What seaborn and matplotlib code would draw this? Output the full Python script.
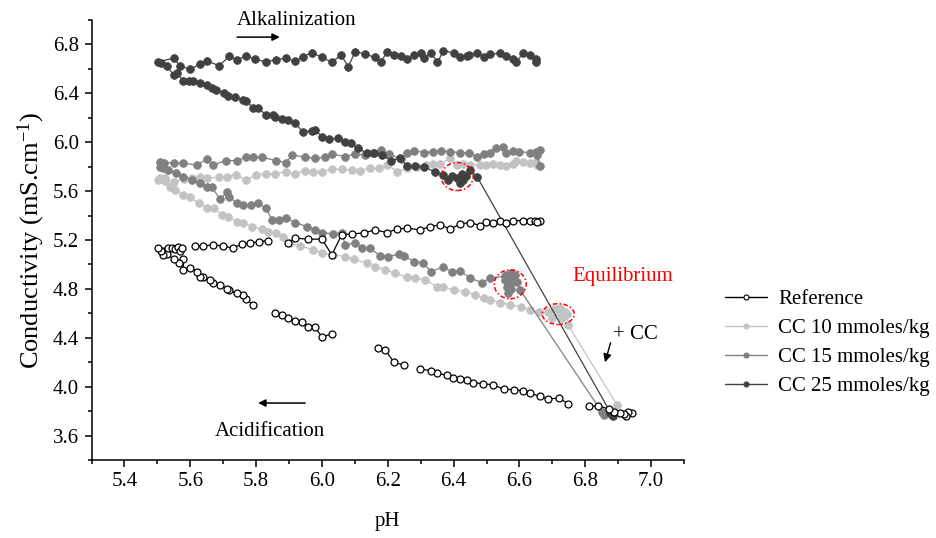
import numpy as np
import pandas as pd
import matplotlib
matplotlib.use("Agg")
import matplotlib.pyplot as plt
import seaborn as sns
from matplotlib.lines import Line2D
from matplotlib.patches import Ellipse
from matplotlib.ticker import MultipleLocator

# ---------------- data ----------------
series_labels = ["Reference", "CC 10 mmoles/kg", "CC 15 mmoles/kg", "CC 25 mmoles/kg"]
series_colors = ["#000000", "#c3c3c3", "#808080", "#414141"]

nan = np.nan
ref_ph = [6.943, 6.931, 6.925, 6.918, 6.906, 6.888, 6.871, 6.840, 6.810, nan,
          6.749, 6.719, 6.688, 6.661, 6.633, 6.611, 6.582, 6.552, 6.519, 6.489, 6.459, 6.440, 6.420,
          6.398, 6.380, 6.351, 6.331, 6.298, nan,
          6.248, 6.219, 6.192, 6.169, nan,
          6.030, 6.000, 5.979, 5.959, 5.939, 5.919, 5.898, 5.878, 5.858, nan,
          5.790, 5.770, 5.761, 5.741, 5.719, 5.711, 5.691, 5.670, 5.660, 5.640, 5.630, 5.620, 5.599,
          5.579, 5.579, 5.567, 5.549, 5.529, 5.518, 5.510, 5.503, 5.533, 5.544, 5.554, 5.564, 5.569,
          5.574, nan,
          5.615, 5.640, 5.668, 5.699, 5.729, 5.757, 5.782, 5.810, 5.837, nan,
          5.898, 5.919, 5.959, 6.000, 6.030, 6.060, 6.091, 6.128, 6.162, 6.197, 6.228, 6.258, 6.298,
          6.329, 6.359, 6.390, 6.420, 6.450, 6.481, 6.499, 6.519, 6.540, 6.560, 6.580, 6.611, 6.631,
          6.648, 6.661, 6.653]
ref_cond = [3.787, 3.795, 3.762, 3.778, 3.787, 3.795, 3.817, 3.844, 3.838, nan,
            3.860, 3.907, 3.899, 3.920, 3.948, 3.967, 3.975, 3.980, 4.016, 4.024, 4.034, 4.051, 4.060,
            4.070, 4.092, 4.111, 4.132, 4.144, nan,
            4.179, 4.198, 4.302, 4.316, nan,
            4.433, 4.406, 4.487, 4.492, 4.533, 4.541, 4.561, 4.588, 4.602, nan,
            4.670, 4.716, 4.751, 4.765, 4.787, 4.798, 4.833, 4.847, 4.874, 4.896, 4.901, 4.942, 4.970,
            4.956, 5.043, 5.011, 5.043, 5.087, 5.079, 5.114, 5.133, 5.133, 5.133, 5.125, 5.141, 5.106,
            5.133, nan,
            5.152, 5.152, 5.160, 5.152, 5.133, 5.168, 5.174, 5.187, 5.195, nan,
            5.174, 5.215, 5.207, 5.207, 5.079, 5.242, 5.250, 5.258, 5.283, 5.261, 5.289, 5.297, 5.283,
            5.310, 5.324, 5.289, 5.332, 5.343, 5.318, 5.351, 5.338, 5.359, 5.343, 5.359, 5.359, 5.359,
            5.359, 5.359, 5.348]

cc10_ph = [6.896, 6.748, 6.744, 6.730, 6.718, 6.700, 6.688, 6.709, 6.724, 6.739,
           6.658, 6.633, 6.605, 6.572, 6.542, 6.511, 6.491, 6.466, 6.435, 6.400,
           6.369, 6.349, 6.314, 6.283, 6.258, 6.222, 6.192, 6.162, 6.136, 6.096,
           6.071, 6.035, 6.000, 5.974, 5.934, 5.903, 5.883, 5.861, 5.837, 5.817,
           5.787, 5.761, 5.741, 5.716, 5.696, 5.672, 5.650, 5.625, 5.599, 5.579,
           5.554, 5.539, 5.523, 5.503,
           5.508, 5.523, 5.549, 5.580, 5.605, 5.630, 5.650, 5.688, 5.711, 5.739,
           5.770, 5.800, 5.830, 5.858, 5.890, 5.919, 5.949, 5.974, 6.000, 6.030,
           6.060, 6.091, 6.116, 6.147, 6.172, 6.199, 6.229, 6.258, 6.288, 6.317,
           6.338, 6.359, 6.390, 6.410, 6.430, 6.450, 6.481, 6.499, 6.519, 6.540,
           6.560, 6.580, 6.590, 6.611, 6.631, 6.651, 6.653]
cc10_cond = [3.852, 4.506, 4.596, 4.563, 4.612, 4.563, 4.612, 4.637, 4.645, 4.612,
             4.607, 4.629, 4.651, 4.670, 4.688, 4.711, 4.724, 4.751, 4.778, 4.792,
             4.814, 4.819, 4.874, 4.888, 4.896, 4.929, 4.956, 4.983, 5.011, 5.043,
             5.065, 5.079, 5.092, 5.119, 5.152, 5.174, 5.228, 5.256, 5.269, 5.289,
             5.310, 5.343, 5.351, 5.392, 5.406, 5.460, 5.460, 5.501, 5.550, 5.569,
             5.610, 5.637, 5.686, 5.692,
             5.706, 5.706, 5.678, 5.700, 5.710, 5.714, 5.706, 5.714, 5.719, 5.733,
             5.692, 5.733, 5.741, 5.741, 5.760, 5.741, 5.768, 5.760, 5.760, 5.779,
             5.779, 5.774, 5.768, 5.787, 5.787, 5.814, 5.760, 5.787, 5.800, 5.814,
             5.818, 5.823, 5.869, 5.814, 5.823, 5.814, 5.814, 5.814, 5.823, 5.814,
             5.806, 5.823, 5.850, 5.841, 5.833, 5.841, 5.814]

cc15_ph = [6.850, 6.856, 6.602, 6.593, 6.587, 6.575, 6.560, 6.557, 6.563, 6.566, 6.575, 6.578, 6.570, 6.557,
           6.511, 6.486, 6.450, 6.420, 6.395, 6.369, 6.331, 6.308, 6.280, 6.248,
           6.233, 6.202, 6.177, 6.147, 6.121, 6.101, 6.071, 6.060, 6.033, 6.000,
           5.979, 5.954, 5.919, 5.890, 5.868, 5.848, 5.830, 5.807, 5.785, 5.761, 5.741,
           5.719, 5.713, 5.691, 5.665, 5.650, 5.628, 5.605, 5.579, 5.557, 5.533, 5.517, 5.508,
           5.508, 5.520, 5.549, 5.579, 5.620, 5.650, 5.668, 5.709, 5.741, 5.770,
           5.792, 5.819, 5.860, 5.890, 5.910, 5.949, 5.979, 6.010, 6.030, 6.071,
           6.099, 6.131, 6.155, 6.179, 6.205, 6.240, 6.258, 6.280, 6.311, 6.337, 6.361,
           6.390, 6.420, 6.448, 6.471, 6.491, 6.511, 6.529, 6.550, 6.560, 6.580,
           6.600, 6.631, 6.651, 6.661, 6.653, 6.661]
cc15_cond = [3.790, 3.770, 4.792, 4.858, 4.915, 4.930, 4.915, 4.874, 4.815, 4.770, 4.800, 4.860, 4.900, 4.905,
             4.888, 4.852, 4.888, 4.950, 4.942, 4.978, 4.942, 5.011, 5.024, 5.070,
             5.084, 5.065, 5.070, 5.133, 5.133, 5.174, 5.160, 5.261, 5.250, 5.261,
             5.283, 5.310, 5.343, 5.379, 5.365, 5.365, 5.460, 5.501, 5.490, 5.487, 5.501,
             5.555, 5.596, 5.534, 5.632, 5.637, 5.670, 5.692, 5.719, 5.747, 5.774, 5.790, 5.801,
             5.841, 5.833, 5.833, 5.828, 5.814, 5.861, 5.814, 5.850, 5.850, 5.877,
             5.877, 5.877, 5.850, 5.833, 5.896, 5.877, 5.869, 5.877, 5.904, 5.882,
             5.904, 5.896, 5.910, 5.937, 5.904, 5.861, 5.915, 5.931, 5.915, 5.923, 5.929,
             5.923, 5.915, 5.915, 5.882, 5.902, 5.910, 5.951, 5.959, 5.910, 5.931,
             5.923, 5.915, 5.923, 5.937, 5.896, 5.806]

cc25_ph = [6.876, 6.884, 6.880,
           6.471, 6.450, 6.439, 6.424, 6.430, 6.418, 6.409, 6.396, 6.384, 6.369,
           6.344, 6.309, 6.283, 6.258, 6.238, 6.209, 6.182, 6.157, 6.136, 6.111,
           6.088, 6.071, 6.050, 6.020, 6.000, 5.979, 5.969, 5.941, 5.919, 5.898,
           5.878, 5.858, 5.851, 5.830, 5.807, 5.792, 5.770, 5.761, 5.736, 5.716,
           5.701, 5.678, 5.665, 5.650, 5.630, 5.609, 5.597, 5.579, 5.559, 5.549,
           5.529, 5.510, 5.503,
           5.549, 5.569, 5.599, 5.630, 5.650, 5.688, 5.719, 5.741, 5.770, 5.797,
           5.829, 5.860, 5.890, 5.919, 5.941, 5.969, 6.000, 6.030, 6.058, 6.080,
           6.101, 6.131, 6.160, 6.179, 6.199, 6.219, 6.240, 6.258, 6.280, 6.301,
           6.311, 6.331, 6.351, 6.369, 6.400, 6.420, 6.440, 6.448, 6.471, 6.491,
           6.511, 6.540, 6.560, 6.580, 6.590, 6.611, 6.631, 6.651, 6.651]
cc25_cond = [3.785, 3.760, 3.772,
             5.719, 5.774, 5.724, 5.741, 5.692, 5.667, 5.708, 5.724, 5.692, 5.733,
             5.757, 5.800, 5.806, 5.806, 5.869, 5.850, 5.896, 5.910, 5.910, 5.951,
             5.992, 6.005, 6.033, 6.025, 6.046, 6.101, 6.095, 6.087, 6.155, 6.182,
             6.188, 6.204, 6.223, 6.223, 6.278, 6.278, 6.338, 6.346, 6.368, 6.381,
             6.401, 6.428, 6.442, 6.469, 6.487, 6.504, 6.504, 6.504, 6.564, 6.550,
             6.624, 6.646, 6.659,
             6.687, 6.624, 6.597, 6.638, 6.665, 6.626, 6.706, 6.673, 6.706, 6.681,
             6.657, 6.675, 6.687, 6.662, 6.700, 6.733, 6.695, 6.654, 6.714, 6.618,
             6.741, 6.722, 6.695, 6.659, 6.741, 6.711, 6.706, 6.679, 6.714, 6.728,
             6.687, 6.733, 6.654, 6.747, 6.733, 6.695, 6.706, 6.714, 6.728, 6.700,
             6.720, 6.728, 6.706, 6.679, 6.654, 6.728, 6.714, 6.679, 6.659]

x_ticks = [5.4, 5.6, 5.8, 6.0, 6.2, 6.4, 6.6, 6.8, 7.0]
y_ticks = [3.6, 4.0, 4.4, 4.8, 5.2, 5.6, 6.0, 6.4, 6.8]

# equilibrium regions (centre pH, centre conductivity, width, height)
eq_ph = [6.411, 6.572, 6.718]
eq_cond = [5.719, 4.838, 4.594]
eq_w = [0.097, 0.097, 0.097]
eq_h = [0.229, 0.237, 0.170]

# ---------------- style ----------------
sns.set_theme(style="ticks")
plt.rcParams["font.family"] = ["Liberation Serif", "DejaVu Serif"]
plt.rcParams["mathtext.fontset"] = "custom"
plt.rcParams["mathtext.rm"] = "Liberation Serif"
plt.rcParams["mathtext.it"] = "Liberation Serif:italic"

fig = plt.figure(figsize=(9.37, 5.38), dpi=100)
ax = fig.add_axes([0.0977, 0.1450, 0.6323, 0.8178])


def draw(ph, cond, color, face, ms, mew, z):
    df = pd.DataFrame({"pH": ph, "cond": cond})
    df["seg"] = df["pH"].isna().cumsum()
    df = df.dropna()
    sns.lineplot(data=df, x="pH", y="cond", units="seg", estimator=None, sort=False,
                 color=color, lw=0.9, marker="o", markersize=ms, markerfacecolor=face,
                 markeredgecolor=color, markeredgewidth=mew, ax=ax, zorder=z, legend=False)


draw(cc10_ph, cc10_cond, series_colors[1], series_colors[1], 5.6, 0.5, 3)
draw(cc15_ph, cc15_cond, series_colors[2], series_colors[2], 5.6, 0.5, 4)
draw(cc25_ph, cc25_cond, series_colors[3], series_colors[3], 5.6, 0.5, 5)
draw(ref_ph, ref_cond, series_colors[0], "white", 5.0, 0.9, 6)

for cx, cy, w, h in zip(eq_ph, eq_cond, eq_w, eq_h):
    ax.add_patch(Ellipse((cx, cy), w, h, fill=False, ec="red", lw=1.1,
                         ls=(0, (3, 1.5, 1, 1.5)), zorder=7))

ax.set_xlim(5.3, 7.1)
ax.set_ylim(3.4, 7.0)
ax.set_xticks(x_ticks)
ax.set_yticks(y_ticks)
ax.set_xticklabels([f"{v:.1f}" for v in x_ticks])
ax.set_yticklabels([f"{v:.1f}" for v in y_ticks])
ax.xaxis.set_minor_locator(MultipleLocator(0.1))
ax.yaxis.set_minor_locator(MultipleLocator(0.2))
ax.tick_params(axis="both", which="major", direction="out", length=5, width=1.1,
               labelsize=15, color="black", labelcolor="black", pad=4)
ax.tick_params(axis="both", which="minor", direction="out", length=2.6, width=1.1, color="black")
sns.despine(ax=ax)
for s in ("left", "bottom"):
    ax.spines[s].set_linewidth(1.1)
    ax.spines[s].set_color("black")

ax.set_xlabel("pH", fontsize=15, labelpad=15, color="black")
ax.set_ylabel("Conductivity (mS.cm$^{-1}$)", fontsize=19, color="black")
ax.yaxis.set_label_coords(-0.075, 0.5)

# annotations
ax.text(5.742, 7.0, "Alkalinization", fontsize=15, ha="left", va="center", color="black")
ax.annotate("", xy=(5.872, 6.86), xytext=(5.742, 6.86),
            arrowprops=dict(arrowstyle="-|>", color="black", lw=1.1, mutation_scale=11,
                            shrinkA=0, shrinkB=0))
ax.text(5.675, 3.63, "Acidification", fontsize=15, ha="left", va="center", color="black")
ax.annotate("", xy=(5.806, 3.866), xytext=(5.949, 3.866),
            arrowprops=dict(arrowstyle="-|>", color="black", lw=1.1, mutation_scale=11,
                            shrinkA=0, shrinkB=0))
ax.text(6.76, 4.90, "Equilibrium", fontsize=15, ha="left", va="center", color="red")
ax.text(6.885, 4.43, "+ CC", fontsize=15, ha="left", va="center", color="black")
ax.annotate("", xy=(6.860, 4.20), xytext=(6.877, 4.36),
            arrowprops=dict(arrowstyle="-|>", color="black", lw=1.0, mutation_scale=12,
                            shrinkA=0, shrinkB=0))

# legend
handles = []
for lab, col in zip(series_labels, series_colors):
    face = "white" if lab == "Reference" else col
    handles.append(Line2D([0], [0], color=col, lw=1.0, marker="o", markersize=3.6,
                          markerfacecolor=face, markeredgecolor=col, markeredgewidth=0.8))
fig.legend(handles=handles, labels=series_labels, loc="center left",
           bbox_to_anchor=(0.7737, 0.363), frameon=False, fontsize=15,
           handlelength=2.0, handletextpad=0.55, labelspacing=0.45, borderpad=0,
           borderaxespad=0, labelcolor="black")

fig.savefig("out.png", dpi=100)
